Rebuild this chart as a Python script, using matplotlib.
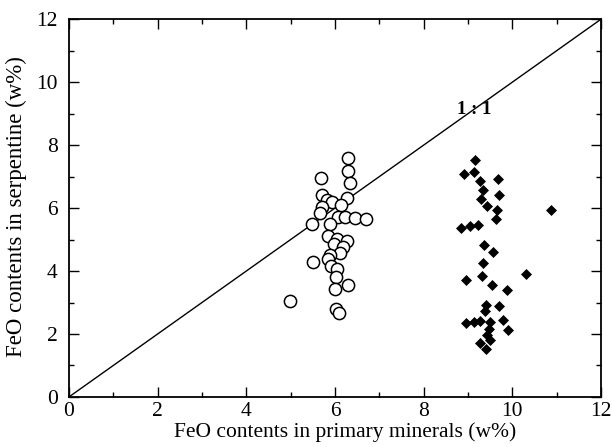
import matplotlib.pyplot as plt
from matplotlib.ticker import MultipleLocator

plt.rcParams["font.family"] = ["Liberation Serif", "DejaVu Serif"]

# open circles: serpentine vs primary mineral (near 1:1)
circle_x = [6.30, 6.30, 6.34, 5.68, 6.27, 5.70, 5.82, 5.93, 6.13, 5.70,
            5.67, 6.06, 5.89, 6.23, 6.46, 6.70, 5.48, 5.85, 6.04, 6.27,
            5.97, 6.19, 6.12, 5.88, 5.85, 5.51, 5.91, 6.04, 6.03, 6.00,
            6.30, 4.99, 6.03, 6.10]
circle_y = [7.59, 7.17, 6.81, 6.94, 6.32, 6.41, 6.25, 6.18, 6.09, 6.04,
            5.83, 5.72, 5.51, 5.72, 5.69, 5.65, 5.48, 5.11, 5.03, 4.96,
            4.85, 4.77, 4.56, 4.50, 4.37, 4.29, 4.15, 4.05, 3.81, 3.44,
            3.55, 3.05, 2.78, 2.67]

# filled diamonds
diamond_x = [9.15, 8.90, 9.13, 9.26, 9.67, 9.33, 9.69, 9.29, 9.43, 9.65,
             10.87, 9.63, 8.85, 9.04, 9.22, 9.37, 9.56, 9.33, 10.31, 8.96,
             9.32, 9.54, 9.89, 9.41, 9.71, 9.39, 8.96, 9.13, 9.26, 9.50,
             9.80, 9.47, 9.90, 9.43, 9.50, 9.26, 9.41]
diamond_y = [7.52, 7.07, 7.15, 6.86, 6.91, 6.57, 6.41, 6.30, 6.06, 5.95,
             5.93, 5.65, 5.37, 5.42, 5.45, 4.82, 4.59, 4.24, 3.89, 3.71,
             3.84, 3.55, 3.39, 2.91, 2.88, 2.73, 2.35, 2.38, 2.41, 2.38,
             2.44, 2.17, 2.14, 1.96, 1.82, 1.72, 1.52]

fig = plt.figure(figsize=(6.12, 4.47), dpi=100)
ax = fig.add_axes([0.1127, 0.112, 0.8693, 0.845])

ax.plot([0, 12], [0, 12], color="black", lw=1.0, zorder=1)
ax.plot(circle_x, circle_y, "o", ms=8.8, mfc="white", mec="black",
        mew=1.1, zorder=2)
ax.plot(diamond_x, diamond_y, "D", ms=5.6, mfc="black", mec="black",
        mew=0.5, zorder=3)

ax.text(9.15, 9.12, "1 : 1", fontsize=13.5, fontweight="bold",
        ha="center", va="center")

ax.set_xlim(0, 12)
ax.set_ylim(0, 12)
ax.xaxis.set_major_locator(MultipleLocator(2))
ax.yaxis.set_major_locator(MultipleLocator(2))
ax.xaxis.set_minor_locator(MultipleLocator(1))
ax.yaxis.set_minor_locator(MultipleLocator(1))
ax.tick_params(which="both", direction="in", top=True, right=True,
               labelsize=15.5, width=1.0)
ax.tick_params(axis="y", pad=8)
ax.tick_params(which="major", length=7)
ax.tick_params(which="minor", length=3.5)
for s in ax.spines.values():
    s.set_linewidth(1.3)

ax.set_xlabel("FeO contents in primary minerals (w%)", fontsize=15.5)
ax.set_ylabel("FeO contents in serpentine (w%)", fontsize=16.5)
ax.xaxis.set_label_coords(0.52, -0.068)
ax.yaxis.set_label_coords(-0.079, 0.505)

fig.savefig("out.png", dpi=100)
plt.close(fig)
